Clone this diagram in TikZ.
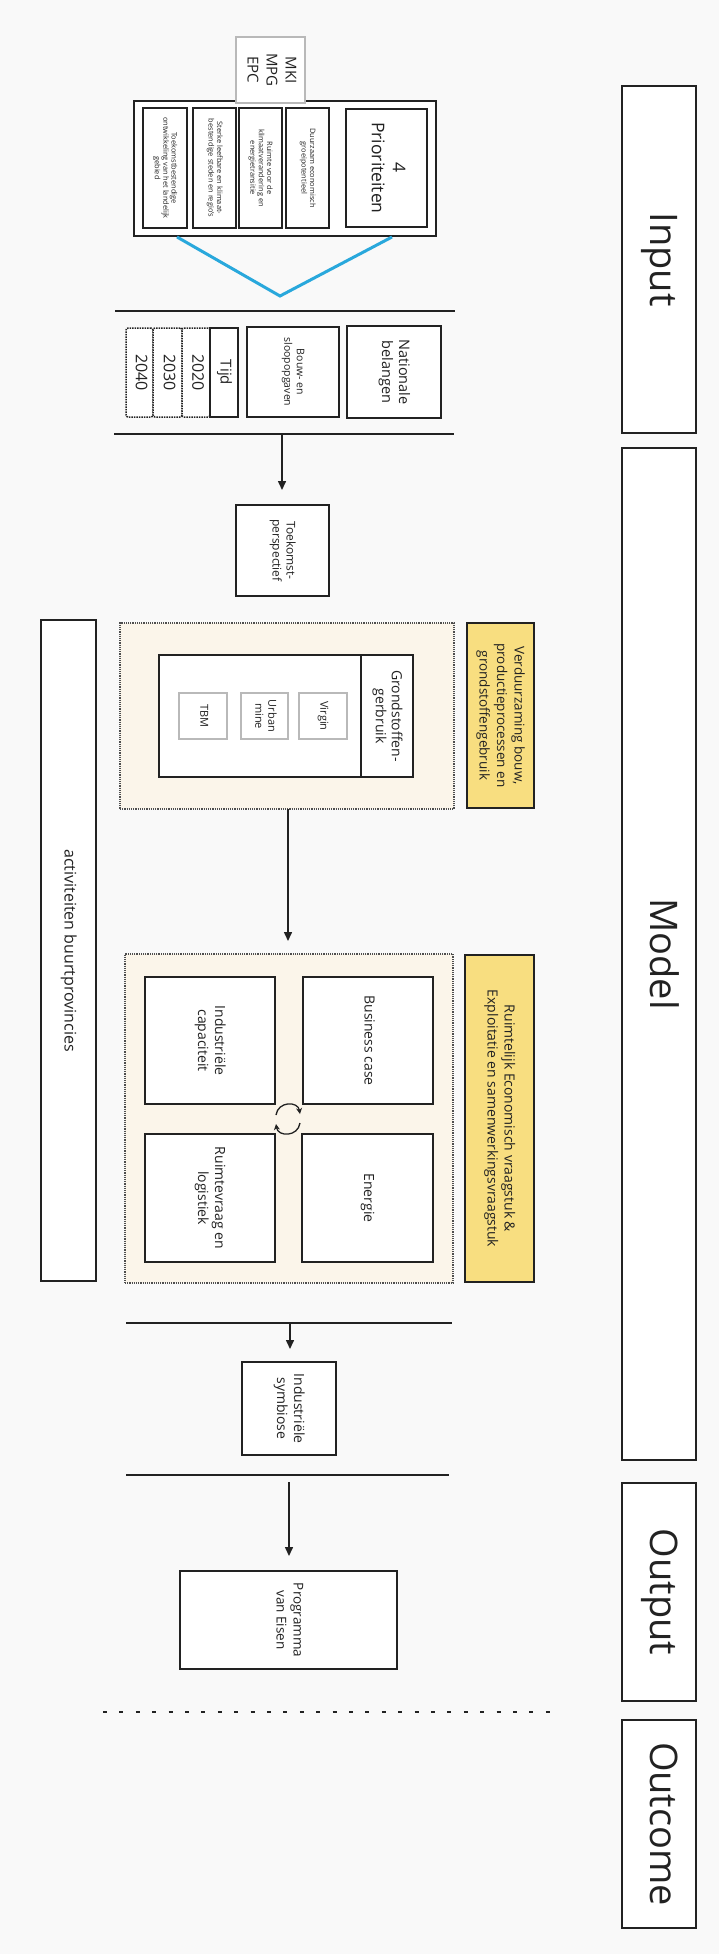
\documentclass[tikz,border=0pt]{standalone}
\usepackage{fontspec}
\setmainfont{Open Sans}
\usepackage{graphicx}
\usetikzlibrary{arrows.meta}
\newcommand{\vtext}[1]{\rotatebox{-90}{\begin{tabular}{@{}c@{}}#1\end{tabular}}}
\definecolor{bg}{RGB}{249,249,249}
\definecolor{beige}{RGB}{251,245,234}
\definecolor{gold}{RGB}{248,222,128}
\definecolor{sky}{RGB}{41,168,220}
\definecolor{ink}{RGB}{34,34,34}
\definecolor{lightframe}{RGB}{185,185,185}
\begin{document}
\begin{tikzpicture}[x=1pt,y=-1pt,
  box/.style={draw=ink,line width=1.5pt,fill=white,inner sep=0pt,align=center,text=ink},
  graybox/.style={box,draw=lightframe},
  yearbox/.style={box,densely dotted,rounded corners=2pt},
  section/.style={draw=ink!80,line width=1.2pt,densely dotted,fill=beige,inner sep=0pt},
  goldbox/.style={box,fill=gold,line width=2pt},
  big/.style={font=\fontsize{38}{44}\selectfont},
  med/.style={font=\fontsize{14}{17}\selectfont},
  medb/.style={font=\fontsize{13.5}{17.5}\selectfont},
  small/.style={font=\fontsize{11}{13}\selectfont},
  tiny/.style={font=\fontsize{7.4}{8.4}\selectfont},
  sepline/.style={draw=ink,line width=1.5pt},
  arr/.style={draw=ink,line width=1.5pt,-{Triangle[length=9pt,width=8pt]}},
  cyc/.style={draw=ink,line width=1.3pt,-{Stealth[length=6pt,width=6pt]}}
]
% background
\fill[bg] (0,0) rectangle (719,1954);
\useasboundingbox (0,0) rectangle (719,1954);

% right column
\node[box,big,minimum width=74pt,minimum height=347pt] (input) at (659,259.5) {\vtext{Input}};
\node[box,big,minimum width=74pt,minimum height=1012pt] (model) at (659,954) {\vtext{Model}};
\node[box,big,minimum width=74pt,minimum height=218pt] (output) at (659,1592) {\vtext{Output}};
\node[box,big,minimum width=74pt,minimum height=208pt] (outcome) at (659,1824) {\vtext{Outcome}};

% left column
\node[box,font=\fontsize{16}{19}\selectfont,minimum width=55pt,minimum height=661pt] (act) at (68.5,950.5) {\vtext{activiteiten buurtprovincies}};

% priorities
\node[box,line width=2pt,minimum width=302pt,minimum height=135pt] (prio) at (285,168.5) {};
\node[box,tiny,minimum width=44pt,minimum height=120pt] (p1) at (165,168) {\vtext{Toekomstbestendige\\ontwikkeling van het landelijk\\gebied}};
\node[box,tiny,minimum width=43pt,minimum height=120pt] (p2) at (214.5,168) {\vtext{Sterke leefbare en klimaat-\\bestendige steden en regio's}};
\node[box,tiny,minimum width=43pt,minimum height=120pt] (p3) at (260.5,168) {\vtext{Ruimte voor de\\klimaatverandering en\\energietransitie}};
\node[box,tiny,minimum width=43pt,minimum height=120pt] (p4) at (307.5,168) {\vtext{Duurzaam economisch\\groeipotentieel}};
\node[box,font=\fontsize{17.5}{21}\selectfont,minimum width=81pt,minimum height=118pt] (p0) at (386.5,168) {\vtext{4\\Prioriteiten}};
\node[graybox,font=\fontsize{15}{19}\selectfont,minimum width=69pt,minimum height=66pt] (mki) at (270.5,70) {\vtext{MKI\\MPG\\EPC}};

% blue V
\coordinate (vl) at (177,237);
\coordinate (vm) at (280,296);
\coordinate (vr) at (392,237);
\draw[sky,line width=3pt] (vl) -- (vm) -- (vr);

% first band
\coordinate (l1a) at (115,311); \coordinate (l1b) at (455,311);
\coordinate (l2a) at (114,434); \coordinate (l2b) at (454,434);
\draw[sepline] (l1a) -- (l1b);
\draw[sepline] (l2a) -- (l2b);
\node[yearbox,font=\fontsize{16}{18}\selectfont,minimum width=27pt,minimum height=89pt] (y2040) at (139.5,372.5) {\vtext{2040}};
\node[yearbox,font=\fontsize{16}{18}\selectfont,minimum width=29pt,minimum height=89pt] (y2030) at (167.5,372.5) {\vtext{2030}};
\node[yearbox,font=\fontsize{16}{18}\selectfont,minimum width=28pt,minimum height=89pt] (y2020) at (196,372.5) {\vtext{2020}};
\node[box,font=\fontsize{15}{17}\selectfont,minimum width=28pt,minimum height=89pt] (tijd) at (224,372.5) {\vtext{Tijd}};
\node[box,font=\fontsize{10.5}{12.5}\selectfont,minimum width=92pt,minimum height=90pt] (bouw) at (293,372) {\vtext{Bouw- en\\sloopopgaven}};
\node[box,font=\fontsize{14.5}{17}\selectfont,minimum width=94pt,minimum height=92pt] (nat) at (394,372) {\vtext{Nationale\\belangen}};

\node[box,font=\fontsize{12}{14}\selectfont,minimum width=93pt,minimum height=91pt] (toek) at (282.5,550.5) {\vtext{Toekomst-\\perspectief}};
\coordinate (a1s) at (282,434);
\coordinate (a1e) at (282,490);
\draw[arr] (a1s) -- (a1e);

% section 1
\node[section,minimum width=334pt,minimum height=186pt] (sec1) at (287,716) {};
\node[goldbox,medb,minimum width=67pt,minimum height=185pt] (gold1) at (500.5,715.5) {\vtext{Verduurzaming bouw,\\productieprocessen en\\grondstoffengebruik}};
\node[box,minimum width=254pt,minimum height=122pt] (grond) at (286,716) {};
\node[box,font=\fontsize{14}{16}\selectfont,minimum width=52pt,minimum height=122pt] (grondlab) at (387,716) {\vtext{Grondstoffen-\\gerbruik}};
\node[graybox,small,minimum width=48pt,minimum height=46pt] (virgin) at (323,716) {\vtext{Virgin}};
\node[graybox,small,minimum width=47pt,minimum height=46pt] (urban) at (264.5,716) {\vtext{Urban\\mine}};
\node[graybox,small,minimum width=48pt,minimum height=46pt] (tbm) at (203,716) {\vtext{TBM}};
\coordinate (a2s) at (288,809);
\coordinate (a2e) at (288,941);
\draw[arr] (a2s) -- (a2e);

% section 2
\node[section,minimum width=328pt,minimum height=329pt] (sec2) at (289,1118.5) {};
\node[goldbox,med,minimum width=69pt,minimum height=327pt] (gold2) at (499.5,1118.5) {\vtext{Ruimtelijk Economisch vraagstuk \&\\Exploitatie en samenwerkingsvraagstuk}};
\node[box,med,minimum width=130pt,minimum height=127pt] (bc) at (368,1040.5) {\vtext{Business case}};
\node[box,med,minimum width=131pt,minimum height=128pt] (en) at (367.5,1198) {\vtext{Energie}};
\node[box,med,minimum width=130pt,minimum height=127pt] (ic) at (210,1040.5) {\vtext{Industriële\\capaciteit}};
\node[box,med,minimum width=130pt,minimum height=128pt] (rv) at (210,1198) {\vtext{Ruimtevraag en\\logistiek}};
% cycle symbol
\coordinate (c1) at (276,1115); \coordinate (c2) at (300,1114);
\coordinate (c3) at (300,1123); \coordinate (c4) at (276,1124);
\draw[cyc] (c1) .. controls (278,1101) and (298,1101) .. (c2);
\draw[cyc] (c3) .. controls (298,1137) and (278,1137) .. (c4);

% second band
\coordinate (l3a) at (126,1323); \coordinate (l3b) at (452,1323);
\coordinate (l4a) at (126,1475); \coordinate (l4b) at (449,1475);
\draw[sepline] (l3a) -- (l3b);
\draw[sepline] (l4a) -- (l4b);
\coordinate (a3s) at (290,1323);
\coordinate (a3e) at (290,1349);
\draw[arr] (a3s) -- (a3e);
\node[box,med,minimum width=94pt,minimum height=93pt] (sym) at (289,1408.5) {\vtext{Industriële\\symbiose}};
\coordinate (a4s) at (289,1482);
\coordinate (a4e) at (289,1556);
\draw[arr] (a4s) -- (a4e);
\node[box,font=\fontsize{13.5}{17}\selectfont,minimum width=217pt,minimum height=98pt] (pve) at (288.5,1620) {\vtext{Programma\\van Eisen}};

% dashed divider
\coordinate (d1) at (103,1712); \coordinate (d2) at (560,1712);
\draw[ink,line width=1.6pt,dash pattern=on 4pt off 12.4pt] (d1) -- (d2);
\end{tikzpicture}
\end{document}
